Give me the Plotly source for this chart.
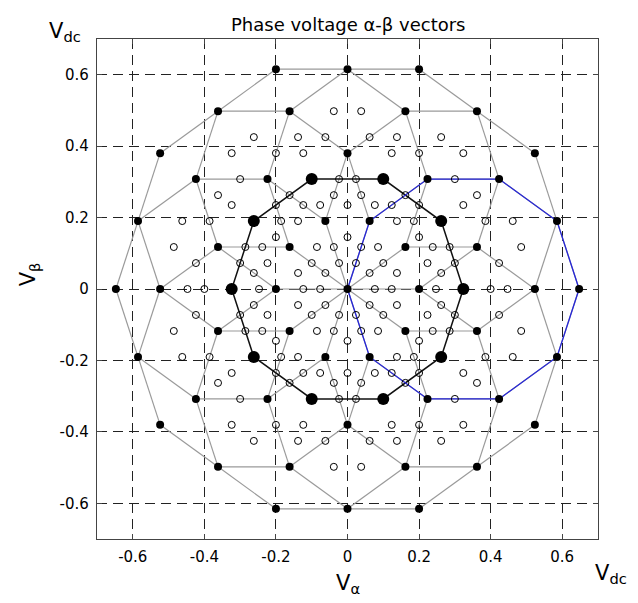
import numpy as np
import plotly.graph_objects as go

# ---------------- data (values in units of Vdc, angles in degrees) ----------------
# the diagram repeats every 36 degrees (10-fold symmetry); positions sit on two angle families
angles_even = [0, 36, 72, 108, 144, 180, 216, 252, 288, 324]
angles_odd = [18, 54, 90, 126, 162, 198, 234, 270, 306, 342]

# filled vectors (vertices of the grey pattern): ring name -> radius, angle family
filled_names = ["A", "C", "D", "E", "F"]
filled_radii = [0.2000, 0.3804, 0.5236, 0.6155, 0.6472]
filled_family = ["even", "odd", "even", "odd", "even"]

# big filled vectors (inner black decagon)
big_radius = 0.3236

# open-circle vectors on the even directions
open_even_radii = [0.0764, 0.1236, 0.2472, 0.4000, 0.4472]
# open-circle vectors on the odd directions
open_odd_radii = [0.1453, 0.2351]
# open-circle vectors lying +/- an offset away from each even direction
open_skew_radii = [0.2656, 0.3087, 0.4298, 0.4994]
open_skew_offsets = [9.73, 13.61, 9.73, 13.61]

# grey segments: (even ring, odd ring) joined to the odd neighbours at +/-18 degrees
grey_pairs = [("A", "C"), ("D", "C"), ("D", "E"), ("F", "E")]
# highlighted (blue) decagon, as (ring, angle)
blue_path = [("O", 0), ("A", 72), ("C", 54), ("D", 36), ("E", 18), ("F", 0),
             ("E", -18), ("D", -36), ("C", -54), ("A", -72), ("O", 0)]

tick_vals = [-0.6, -0.4, -0.2, 0, 0.2, 0.4, 0.6]
tick_text = ["-0.6", "-0.4", "-0.2", "0", "0.2", "0.4", "0.6"]

# ---------------- helpers ----------------
ring_r = dict(zip(filled_names, filled_radii))
ring_r["O"] = 0.0
ring_r["B"] = big_radius


def pos(ring, ang):
    r = ring_r[ring]
    t = np.deg2rad(ang)
    return r * np.cos(t), r * np.sin(t)


fam = {"even": angles_even, "odd": angles_odd}

# filled points
fx, fy = [0.0], [0.0]
for n, f in zip(filled_names, filled_family):
    for a in fam[f]:
        x, y = pos(n, a)
        fx.append(x); fy.append(y)

bx, by = [], []
for a in angles_even:
    x, y = pos("B", a)
    bx.append(x); by.append(y)

ox, oy = [], []
for r in open_even_radii:
    for a in angles_even:
        ox.append(r * np.cos(np.deg2rad(a))); oy.append(r * np.sin(np.deg2rad(a)))
for r in open_odd_radii:
    for a in angles_odd:
        ox.append(r * np.cos(np.deg2rad(a))); oy.append(r * np.sin(np.deg2rad(a)))
for r, d in zip(open_skew_radii, open_skew_offsets):
    for a in angles_even:
        for s in (1, -1):
            t = np.deg2rad(a + s * d)
            ox.append(r * np.cos(t)); oy.append(r * np.sin(t))

# grey segments
gx, gy = [], []
for a in angles_even:
    x0, y0 = pos("O", 0)
    x1, y1 = pos("A", a)
    gx += [x0, x1, None]; gy += [y0, y1, None]
for e, o in grey_pairs:
    for a in angles_even:
        for s in (1, -1):
            x0, y0 = pos(e, a)
            x1, y1 = pos(o, a + 18 * s)
            gx += [x0, x1, None]; gy += [y0, y1, None]

# black decagon
kx = bx + [bx[0]]
ky = by + [by[0]]

# blue decagon
ux, uy = [], []
for n, a in blue_path:
    x, y = pos(n, a)
    ux.append(x); uy.append(y)

# ---------------- figure ----------------
fig = go.Figure()
fig.add_trace(go.Scatter(x=gx, y=gy, mode="lines",
                         line=dict(color="#9a9a9a", width=1.2), hoverinfo="skip"))
fig.add_trace(go.Scatter(x=kx, y=ky, mode="lines",
                         line=dict(color="#111111", width=1.5), hoverinfo="skip"))
fig.add_trace(go.Scatter(x=ux, y=uy, mode="lines",
                         line=dict(color="#2626d9", width=1.3), hoverinfo="skip"))
fig.add_trace(go.Scatter(x=ox, y=oy, mode="markers",
                         marker=dict(symbol="circle-open", size=7, color="black",
                                     line=dict(width=1, color="black"))))
fig.add_trace(go.Scatter(x=fx, y=fy, mode="markers",
                         marker=dict(symbol="circle", size=8, color="black")))
fig.add_trace(go.Scatter(x=bx, y=by, mode="markers",
                         marker=dict(symbol="circle", size=12, color="black")))

font_family = "DejaVu Sans, Arial, Liberation Sans, sans-serif"
axis_common = dict(range=[-0.7, 0.7], tickvals=tick_vals, ticktext=tick_text,
                   showgrid=True, gridcolor="#222222", gridwidth=1, griddash="10px,6px",
                   zeroline=False, showline=True, linecolor="#444444", linewidth=1.2,
                   mirror="ticks", ticks="inside", ticklen=5, tickcolor="#444444",
                   tickfont=dict(family=font_family, size=15, color="black"))

fig.update_layout(
    width=638, height=603,
    margin=dict(l=97, r=40, t=39, b=64),
    paper_bgcolor="white", plot_bgcolor="white",
    showlegend=False,
    xaxis=dict(axis_common, ticklabelstandoff=4),
    yaxis=dict(axis_common, ticklabelstandoff=4),
    font=dict(family=font_family, color="black"),
    annotations=[
        dict(text="Phase voltage α-β vectors", x=0.5, y=1.055, xref="paper", yref="paper",
             showarrow=False, font=dict(size=18)),
        dict(text="V<sub>dc</sub>", x=-0.1, y=1.045, xref="paper", yref="paper",
             showarrow=False, font=dict(size=21)),
        dict(text="V<sub>dc</sub>", x=1.062, y=-0.1, xref="paper", yref="paper",
             showarrow=False, font=dict(size=21)),
        dict(text="V<sub>α</sub>", x=0.5, y=-0.06, xref="paper", yref="paper",
             yanchor="top", showarrow=False, font=dict(size=21)),
        dict(text="V<sub>β</sub>", x=-0.165, y=0.53, xref="paper", yref="paper",
             showarrow=False, textangle=-90, font=dict(size=21)),
    ],
)

fig.write_html("out.html")
